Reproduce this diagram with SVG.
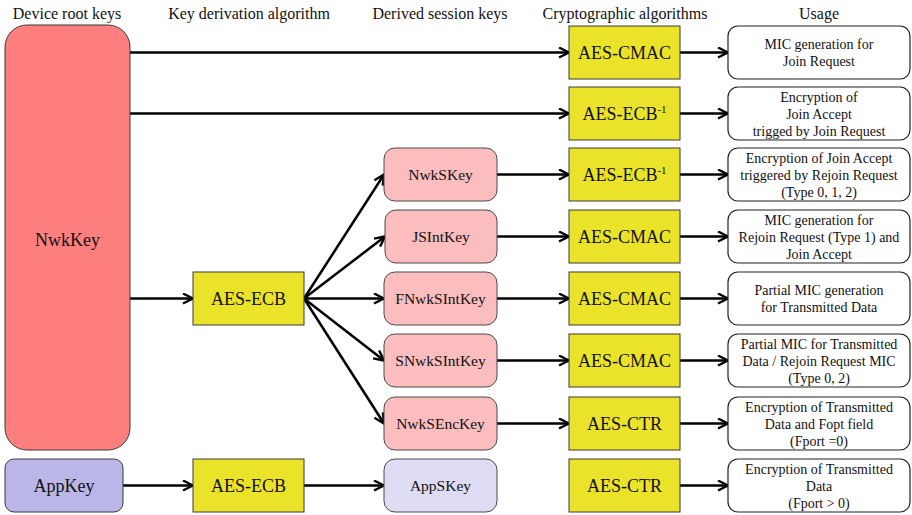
<svg xmlns="http://www.w3.org/2000/svg" width="912" height="515" viewBox="0 0 912 515">
<style>
text{font-family:'Liberation Serif','Tinos','Times New Roman','DejaVu Serif',serif;fill:#111;text-anchor:middle}
.hd{font-size:16px}
.big{font-size:18px}
.sk{font-size:15.5px}
.us{font-size:14px}
.alg{fill:#EAE32A;stroke:#3a3a3a;stroke-width:1}
.ses{fill:#FBBDBD;stroke:#4a4a4a;stroke-width:1}
.use{fill:#fff;stroke:#222;stroke-width:1.2}
.con line{stroke:#000;stroke-width:2.5;marker-end:url(#ah)}
</style>
<defs>
<marker id="ah" viewBox="0 0 12 12" refX="11" refY="6" markerWidth="12" markerHeight="12" markerUnits="userSpaceOnUse" orient="auto">
<path d="M1,1 L11,6 L1,11" fill="none" stroke="#000" stroke-width="2.4"/>
</marker>
</defs>
<rect width="912" height="515" fill="#fff"/>
<g id="headers" font-family="'Liberation Serif', 'DejaVu Serif', serif">
<text class="hd" x="67" y="19">Device root keys</text>
<text class="hd" x="249" y="19">Key derivation algorithm</text>
<text class="hd" x="440" y="19">Derived session keys</text>
<text class="hd" x="625" y="19">Cryptographic algorithms</text>
<text class="hd" x="819" y="19">Usage</text>
</g>
<g id="connectors" class="con">
<line x1="130" y1="52.5" x2="569" y2="52.5"/>
<line x1="130" y1="113.5" x2="569" y2="113.5"/>
<line x1="130" y1="298.5" x2="193" y2="298.5"/>
<line x1="304" y1="298.5" x2="384" y2="174.5"/>
<line x1="304" y1="298.5" x2="385" y2="236.5"/>
<line x1="304" y1="298.5" x2="384" y2="298.5"/>
<line x1="304" y1="298.5" x2="384" y2="360.5"/>
<line x1="304" y1="298.5" x2="384" y2="423.5"/>
<line x1="123" y1="485.5" x2="193" y2="485.5"/>
<line x1="304" y1="485.5" x2="384" y2="485.5"/>
<line x1="497" y1="174.5" x2="569" y2="174.5"/>
<line x1="497" y1="236.5" x2="569" y2="236.5"/>
<line x1="497" y1="298.5" x2="569" y2="298.5"/>
<line x1="497" y1="360.5" x2="569" y2="360.5"/>
<line x1="497" y1="423.5" x2="569" y2="423.5"/>
<line x1="680" y1="52.5" x2="728" y2="52.5"/>
<line x1="680" y1="113.5" x2="728" y2="113.5"/>
<line x1="680" y1="174.5" x2="728" y2="174.5"/>
<line x1="680" y1="236.5" x2="728" y2="236.5"/>
<line x1="680" y1="298.5" x2="728" y2="298.5"/>
<line x1="680" y1="360.5" x2="728" y2="360.5"/>
<line x1="680" y1="423.5" x2="728" y2="423.5"/>
<line x1="680" y1="485.5" x2="728" y2="485.5"/>
</g>
<g id="nwkkey"><rect x="5" y="25" width="125" height="425" rx="22" fill="#FF7F7F" stroke="#3a3a3a"/><text class="big" x="67.5" y="246">NwkKey</text></g>
<g id="appkey"><rect x="5" y="459" width="118" height="53" rx="9" fill="#BAB7E8" stroke="#3a3a3a"/><text class="big" x="64" y="492">AppKey</text></g>
<g id="aesecb1"><rect class="alg" x="193" y="272" width="111" height="53"/><text class="big" x="248.5" y="305">AES-ECB</text></g>
<g id="aesecb2"><rect class="alg" x="193" y="459" width="111" height="53"/><text class="big" x="248.5" y="492">AES-ECB</text></g>
<g id="nwkskey"><rect class="ses" x="384" y="148" width="113" height="53" rx="11"/><text class="sk" x="440.5" y="180">NwkSKey</text></g>
<g id="jsintkey"><rect class="ses" x="385" y="210" width="112" height="53" rx="11"/><text class="sk" x="441" y="242">JSIntKey</text></g>
<g id="fnwksintkey"><rect class="ses" x="384" y="272" width="113" height="53" rx="11"/><text class="sk" x="440.5" y="304">FNwkSIntKey</text></g>
<g id="snwksintkey"><rect class="ses" x="384" y="334" width="113" height="53" rx="11"/><text class="sk" x="440.5" y="366">SNwkSIntKey</text></g>
<g id="nwksenckey"><rect class="ses" x="384" y="397" width="113" height="53" rx="11"/><text class="sk" x="440.5" y="429">NwkSEncKey</text></g>
<g id="appskey"><rect x="384" y="459" width="113" height="53" rx="11" fill="#DEDCF4" stroke="#4a4a4a"/><text class="sk" x="440.5" y="491">AppSKey</text></g>
<g id="alg1"><rect class="alg" x="569" y="26" width="111" height="53"/><text class="big" x="624.5" y="59">AES-CMAC</text></g>
<g id="alg2"><rect class="alg" x="569" y="87" width="111" height="53"/><text class="big" x="624.5" y="120">AES-ECB<tspan font-size="11" dy="-7">-1</tspan></text></g>
<g id="alg3"><rect class="alg" x="569" y="148" width="111" height="53"/><text class="big" x="624.5" y="181">AES-ECB<tspan font-size="11" dy="-7">-1</tspan></text></g>
<g id="alg4"><rect class="alg" x="569" y="210" width="111" height="53"/><text class="big" x="624.5" y="243">AES-CMAC</text></g>
<g id="alg5"><rect class="alg" x="569" y="272" width="111" height="53"/><text class="big" x="624.5" y="305">AES-CMAC</text></g>
<g id="alg6"><rect class="alg" x="569" y="334" width="111" height="53"/><text class="big" x="624.5" y="367">AES-CMAC</text></g>
<g id="alg7"><rect class="alg" x="569" y="397" width="111" height="53"/><text class="big" x="624.5" y="430">AES-CTR</text></g>
<g id="alg8"><rect class="alg" x="569" y="459" width="111" height="53"/><text class="big" x="624.5" y="492">AES-CTR</text></g>
<g id="use1"><rect class="use" x="728" y="26" width="182" height="53" rx="10"/><text class="us" x="819" y="49">MIC generation for</text><text class="us" x="819" y="66">Join Request</text></g>
<g id="use2"><rect class="use" x="728" y="87" width="182" height="53" rx="10"/><text class="us" x="819" y="102">Encryption of</text><text class="us" x="819" y="119">Join Accept</text><text class="us" x="819" y="136">trigged by Join Request</text></g>
<g id="use3"><rect class="use" x="728" y="148" width="182" height="53" rx="10"/><text class="us" x="819" y="163">Encryption of Join Accept</text><text class="us" x="819" y="180">triggered by Rejoin Request</text><text class="us" x="819" y="197">(Type 0, 1, 2)</text></g>
<g id="use4"><rect class="use" x="728" y="210" width="182" height="53" rx="10"/><text class="us" x="819" y="225">MIC generation for</text><text class="us" x="819" y="242">Rejoin Request (Type 1) and</text><text class="us" x="819" y="259">Join Accept</text></g>
<g id="use5"><rect class="use" x="728" y="272" width="182" height="53" rx="10"/><text class="us" x="819" y="295">Partial MIC generation</text><text class="us" x="819" y="312">for Transmitted Data</text></g>
<g id="use6"><rect class="use" x="728" y="334" width="182" height="53" rx="10"/><text class="us" x="819" y="349">Partial MIC for Transmitted</text><text class="us" x="819" y="366">Data / Rejoin Request MIC</text><text class="us" x="819" y="383">(Type 0, 2)</text></g>
<g id="use7"><rect class="use" x="728" y="397" width="182" height="53" rx="10"/><text class="us" x="819" y="412">Encryption of Transmitted</text><text class="us" x="819" y="429">Data and Fopt field</text><text class="us" x="819" y="446">(Fport =0)</text></g>
<g id="use8"><rect class="use" x="728" y="459" width="182" height="53" rx="10"/><text class="us" x="819" y="474">Encryption of Transmitted</text><text class="us" x="819" y="491">Data</text><text class="us" x="819" y="508">(Fport &gt; 0)</text></g>
</svg>
